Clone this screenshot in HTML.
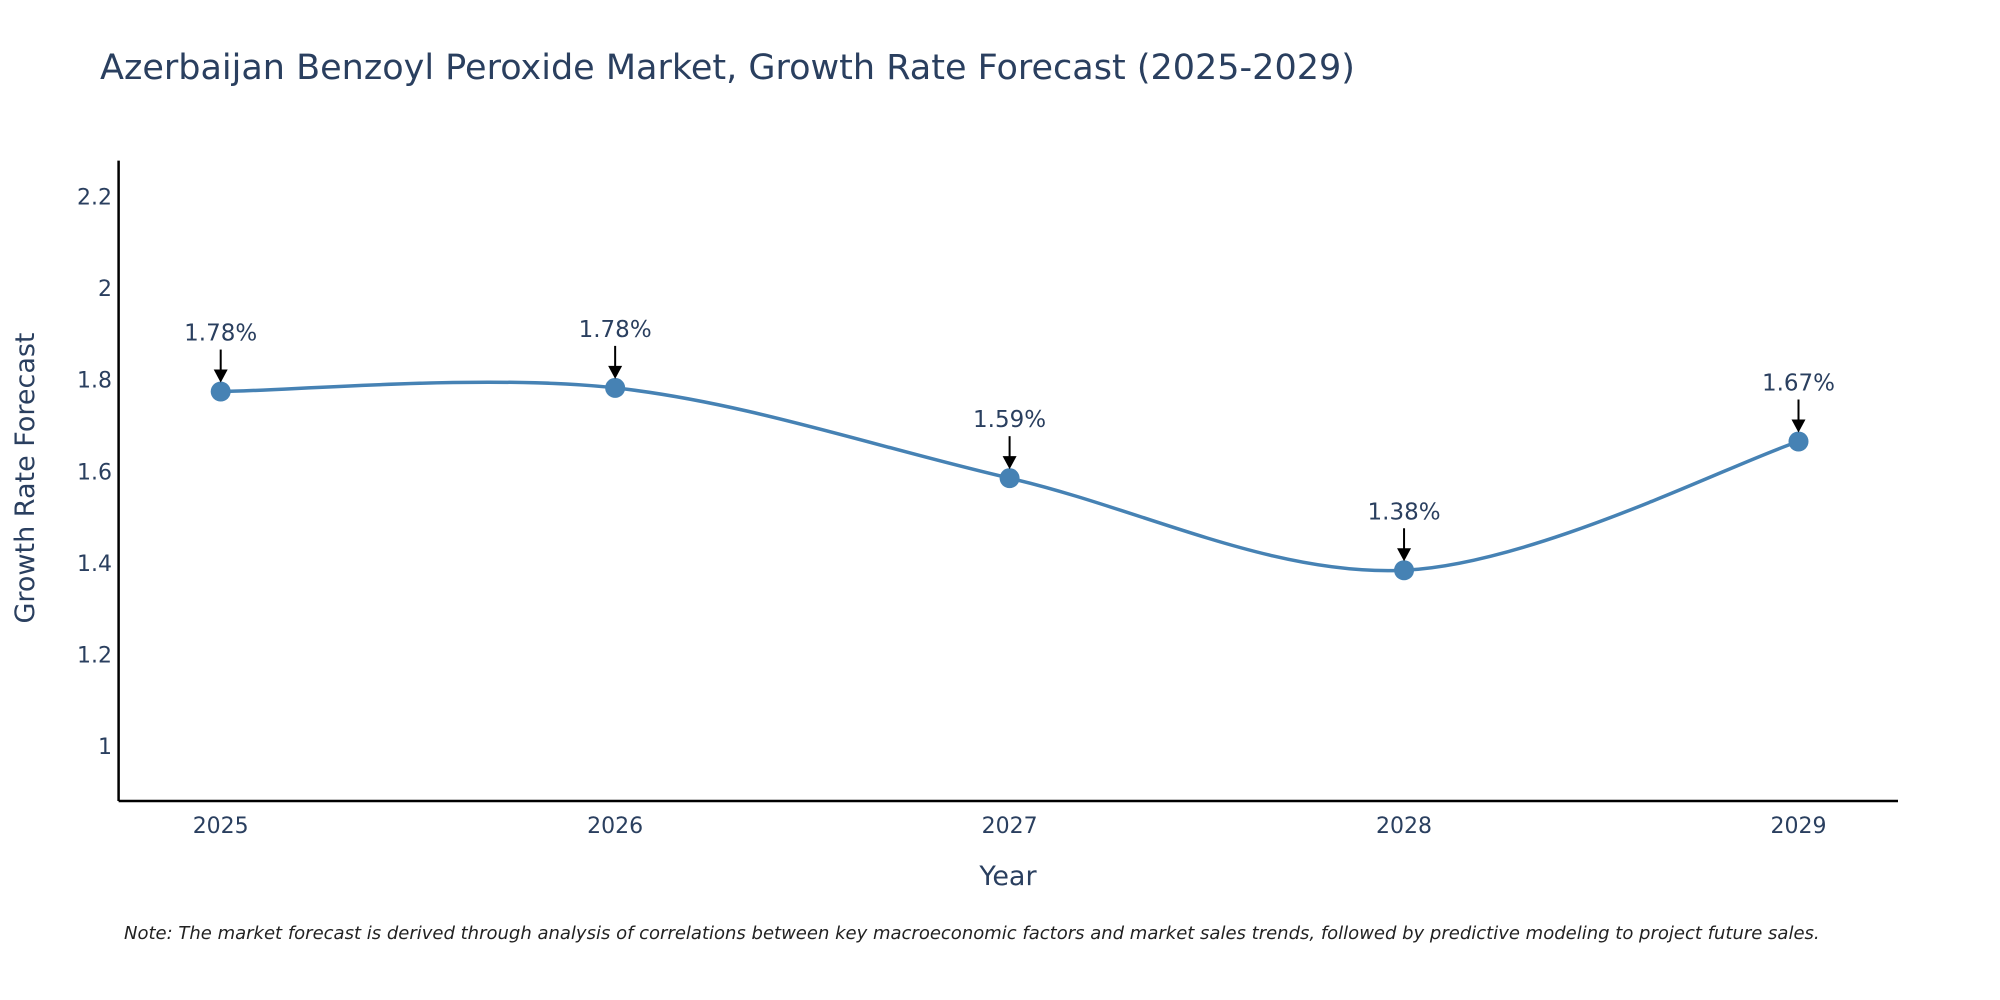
<!DOCTYPE html>
<html><head><meta charset="utf-8"><style>
body{margin:0;background:#fff;overflow:hidden;}
svg{display:block;font-family:"DejaVu Sans","Liberation Sans",sans-serif;}
</style></head><body>
<svg id="chart" width="2000" height="1000" viewBox="0 0 2000 1000" xmlns="http://www.w3.org/2000/svg">
<text x="100" y="79" font-size="35" fill="#2a3f5f">Azerbaijan Benzoyl Peroxide Market, Growth Rate Forecast (2025-2029)</text>
<g id="axes"></g>
<g id="series"></g>
<text x="1008" y="885" font-size="27" fill="#2a3f5f" text-anchor="middle">Year</text>
<text transform="translate(34,478) rotate(-90)" font-size="27" fill="#2a3f5f" text-anchor="middle">Growth Rate Forecast</text>
<text x="124" y="939" font-size="18" font-style="italic" fill="#222">Note: The market forecast is derived through analysis of correlations between key macroeconomic factors and market sales trends, followed by predictive modeling to project future sales.</text>
</svg>
<script>
const categories = ["2025","2026","2027","2028","2029"];
const values = [1.774, 1.782, 1.585, 1.384, 1.665];
const labels = ["1.78%","1.78%","1.59%","1.38%","1.67%"];
const yTicks = [1, 1.2, 1.4, 1.6, 1.8, 2, 2.2];
const yTickLabels = ["1","1.2","1.4","1.6","1.8","2","2.2"];

const NS="http://www.w3.org/2000/svg";
const L=118.6,R=1898,B=801;
const yMin=0.88,yMax=2.278;
const y=v=>746.2-(v-1)*458.2;
const x=i=>220.7+i*(1798.5-220.7)/(categories.length-1);
function mk(t,a,p){const e=document.createElementNS(NS,t);for(const k in a)e.setAttribute(k,a[k]);p.appendChild(e);return e;}
const axes=document.getElementById('axes'),ser=document.getElementById('series');
const ya=mk('line',{x1:L,x2:L,y1:y(yMax),y2:B,stroke:'#000','stroke-width':2.5},axes);


const xa=mk('line',{x1:L,x2:R,y1:B,y2:B,stroke:'#000','stroke-width':2.5},axes);


yTicks.forEach((v,i)=>{const t=mk('text',{x:112,y:y(v)+8,'font-size':22,fill:'#2a3f5f','text-anchor':'end'},axes);t.textContent=yTickLabels[i];

});
categories.forEach((c,i)=>{const t=mk('text',{x:x(i),y:833,'font-size':22,fill:'#2a3f5f','text-anchor':'middle'},axes);t.textContent=c;

});
const pts=values.map((v,i)=>[x(i),y(v)]);
let d=`M${pts[0][0]},${pts[0][1]}`;
for(let i=0;i<pts.length-1;i++){const p0=pts[Math.max(0,i-1)],p1=pts[i],p2=pts[i+1],p3=pts[Math.min(pts.length-1,i+2)];const k=1/6;
d+=` C${p1[0]+(p2[0]-p0[0])*k},${p1[1]+(p2[1]-p0[1])*k} ${p2[0]-(p3[0]-p1[0])*k},${p2[1]-(p3[1]-p1[1])*k} ${p2[0]},${p2[1]}`;}
const line=mk('path',{d:d,fill:'none',stroke:'#4682b4','stroke-width':3.5},ser);


pts.forEach((p,i)=>{
const c=mk('circle',{cx:p[0],cy:p[1],r:10,fill:'#4682b4'},ser);


const a=mk('line',{x1:p[0],x2:p[0],y1:p[1]-42,y2:p[1]-20,stroke:'#000','stroke-width':2},ser);


const h=mk('polygon',{points:`${p[0]-7},${p[1]-22} ${p[0]+7},${p[1]-22} ${p[0]},${p[1]-9}`,fill:'#000'},ser);


const t=mk('text',{x:p[0],y:p[1]-51,'font-size':23,fill:'#2a3f5f','text-anchor':'middle'},ser);t.textContent=labels[i];


});
</script>
</body></html>
